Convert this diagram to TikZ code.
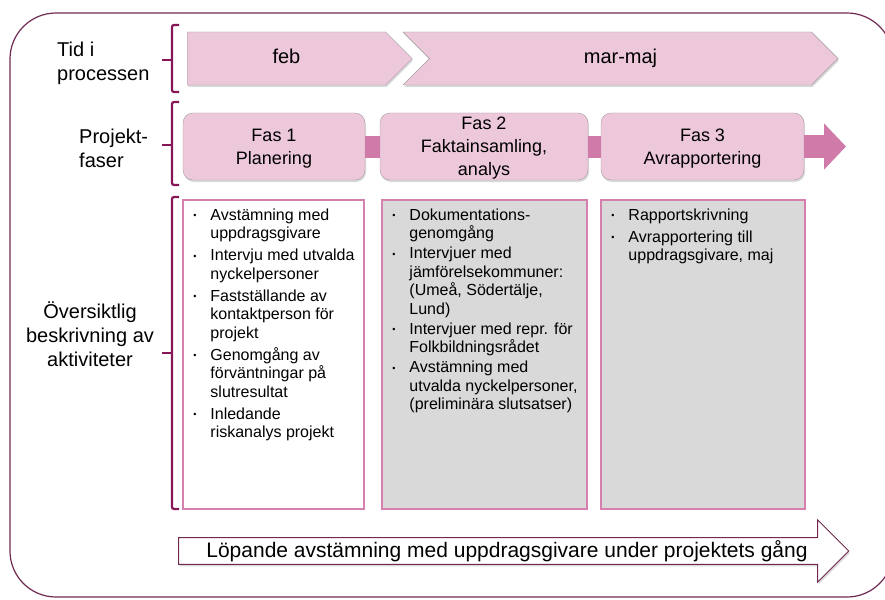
\documentclass[tikz,border=0pt]{standalone}
\usepackage{fontspec}
\setmainfont{Liberation Sans}
\usepackage{tikz}
\usetikzlibrary{shapes.symbols,shapes.arrows,shadows,arrows.meta}
\definecolor{framepurple}{RGB}{112,42,82}
\definecolor{bracepurple}{RGB}{135,22,88}
\definecolor{lightpink}{RGB}{236,200,218}
\definecolor{midpink}{RGB}{207,122,168}
\definecolor{boxpink}{RGB}{214,128,176}
\definecolor{boxgray}{RGB}{217,217,217}
\definecolor{edgegray}{RGB}{165,155,160}
\tikzstyle{rowlabel} = [inner sep=0pt,font=\fontsize{20}{24}\selectfont]
\tikzstyle{period} = [signal,signal to=east,signal pointer angle=90,draw=edgegray,fill=lightpink,
    minimum height=53pt,inner sep=0pt,text height=14pt,text depth=4pt,font=\fontsize{20}{24}\selectfont,
    drop shadow={shadow xshift=1pt,shadow yshift=-2pt,opacity=0.3}]
\tikzstyle{phase} = [rectangle,rounded corners=10pt,draw=edgegray,fill=lightpink,
    minimum height=67pt,align=center,inner sep=0pt,text depth=-3pt,font=\fontsize{18}{23}\selectfont,
    drop shadow={shadow xshift=1pt,shadow yshift=-2pt,opacity=0.3}]
\tikzstyle{actbox} = [rectangle,draw=boxpink,line width=1.8pt,minimum height=309pt]
\tikzstyle{acttext} = [inner sep=0pt,anchor=north west,xshift=11pt,yshift=-8pt,
    font=\fontsize{16}{18.5}\selectfont]
\tikzstyle{ongoing} = [single arrow,draw=framepurple,fill=white,line width=1pt,
    minimum height=670pt,minimum width=62pt,single arrow head extend=14.5pt,
    inner sep=0pt,font=\fontsize{21}{24}\selectfont,
    drop shadow={shadow xshift=1pt,shadow yshift=-2pt,opacity=0.3}]
\newcommand{\rowbrace}[3]{
	\draw[bracepurple,line width=2.2pt,rounded corners=2pt] (179,#1) -| (172,#2) -- (179,#2);
	\draw[bracepurple,line width=2.2pt] (172,#3) -- (162,#3);
}
\newcommand{\actbullet}{{\fontsize{9}{9}\selectfont\raisebox{1.5pt}{\textbullet}}}
\begin{document}
\begin{tikzpicture}[x=1pt,y=-1pt]
	\useasboundingbox (0,0) rectangle (885,599);
	\draw[framepurple,line width=1.2pt,rounded corners=46pt] (10,13) rectangle (893,597);

	\node(timelabel) at (57,63) [rowlabel,anchor=west,align=left] {Tid i\\processen};
	\node(phaselabel) at (79,148) [rowlabel,anchor=west,align=left] {Projekt-\\faser};
	\node(actlabel) at (90,334) [rowlabel,align=center] {Översiktlig\\beskrivning av\\aktiviteter};

	\rowbrace{25}{92}{60}
	\rowbrace{102}{185}{145}
	\rowbrace{197}{509}{353}

	\node(feb) at (187,58.5) [period,anchor=west,minimum width=225pt] {feb};
	\node(marmaj) at (620.5,58.5) [period,signal from=west,minimum width=435pt] {mar-maj};

	\node(fas1) at (274,146.5) [phase,minimum width=182pt] {Fas 1\\Planering};
	\node(fas2) at (484,146.5) [phase,minimum width=208pt] {Fas 2\\Faktainsamling,\\analys};
	\node(fas3) at (702.5,146.5) [phase,minimum width=203pt] {Fas 3\\Avrapportering};
	\coordinate(phaseend) at (846,146.5);
	\draw[midpink,line width=22pt] (fas1.east) -- (fas2.west);
	\draw[midpink,line width=22pt] (fas2.east) -- (fas3.west);
	\draw[midpink,line width=23pt,-{Triangle[length=22pt,width=45pt]}] (fas3.east) -- (phaseend);

	\node(act1) at (273.5,354.5) [actbox,fill=white,minimum width=181pt] {};
	\node(act2) at (484.5,354.5) [actbox,fill=boxgray,minimum width=205pt] {};
	\node(act3) at (703,354.5) [actbox,fill=boxgray,minimum width=204pt] {};

	\node(list1) at (act1.north west) [acttext] {\begin{tabular}{@{}l@{\hspace{14pt}}l@{}}
		\actbullet & Avstämning med\\
		           & uppdragsgivare\\[3.5pt]
		\actbullet & Intervju med utvalda\\
		           & nyckelpersoner\\[3.5pt]
		\actbullet & Fastställande av\\
		           & kontaktperson för\\
		           & projekt\\[3.5pt]
		\actbullet & Genomgång av\\
		           & förväntningar på\\
		           & slutresultat\\[3.5pt]
		\actbullet & Inledande\\
		           & riskanalys projekt
	\end{tabular}};
	\node(list2) at (act2.north west) [acttext] {\begin{tabular}{@{}l@{\hspace{14pt}}l@{}}
		\actbullet & Dokumentations-\\
		           & genomgång\\[1.5pt]
		\actbullet & Intervjuer med\\
		           & jämförelsekommuner:\\
		           & (Umeå, Södertälje,\\
		           & Lund)\\[1.5pt]
		\actbullet & Intervjuer med repr. för\\
		           & Folkbildningsrådet\\[1.5pt]
		\actbullet & Avstämning med\\
		           & utvalda nyckelpersoner,\\
		           & (preliminära slutsatser)
	\end{tabular}};
	\node(list3) at (act3.north west) [acttext] {\begin{tabular}{@{}l@{\hspace{14pt}}l@{}}
		\actbullet & Rapportskrivning\\[3.5pt]
		\actbullet & Avrapportering till\\
		           & uppdragsgivare, maj
	\end{tabular}};

	\node(ongoingarrow) at (507,551) [ongoing] {Löpande avstämning med uppdragsgivare under projektets gång};
\end{tikzpicture}
\end{document}
